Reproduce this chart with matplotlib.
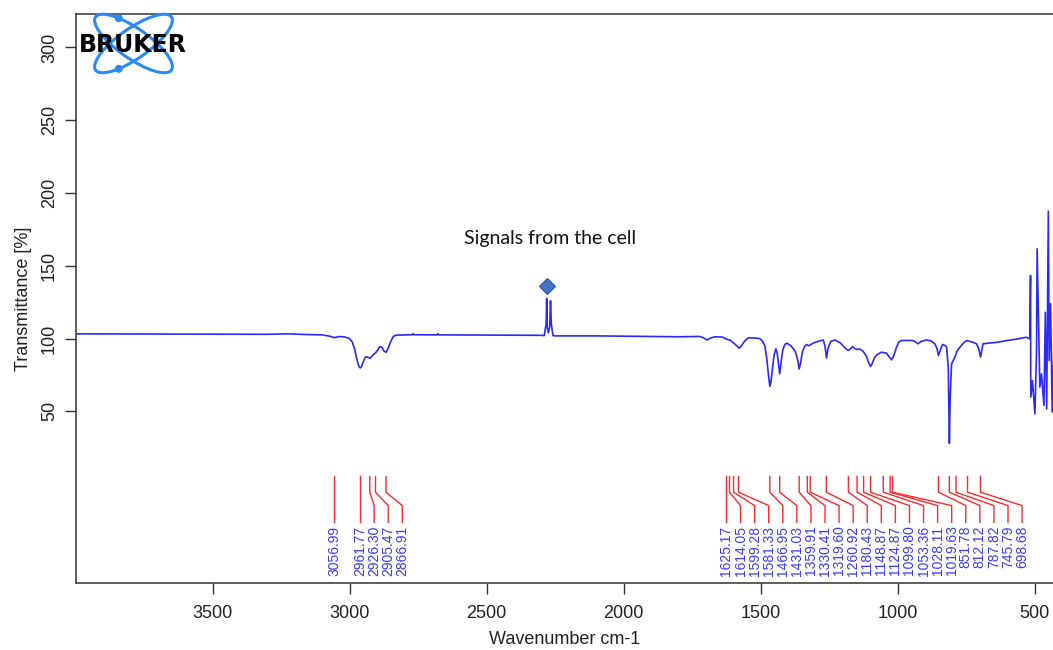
import matplotlib
matplotlib.use("Agg")
import numpy as np
import matplotlib.pyplot as plt
from matplotlib.patches import Ellipse, Circle

plt.rcParams["font.family"] = ["Liberation Sans", "DejaVu Sans"]

# IR transmittance spectrum (wavenumber in cm-1, transmittance in %)
wavenumber = [
    4000, 3800, 3600, 3400, 3300, 3230, 3150, 3100, 3070, 3056, 3040, 3020,
    3000, 2990, 2982, 2975, 2968, 2964, 2961, 2957, 2952, 2946, 2940, 2932,
    2926, 2918, 2910, 2905, 2898, 2890, 2882, 2875, 2867, 2860, 2850, 2840,
    2830, 2770, 2768, 2765, 2680, 2677, 2674, 2400, 2300, 2290, 2283, 2281,
    2279, 2275, 2270, 2267, 2264, 2258, 2250, 2100, 2000, 1900, 1800, 1723,
    1710, 1696, 1682, 1668, 1640, 1625, 1613, 1600, 1590, 1579, 1570, 1560,
    1546, 1520, 1504, 1495, 1485, 1478, 1472, 1467, 1463, 1458, 1452, 1445,
    1440, 1435, 1431, 1427, 1420, 1412, 1404, 1390, 1378, 1372, 1365, 1360,
    1355, 1348, 1340, 1333, 1325, 1320, 1315, 1300, 1272, 1266, 1260, 1255,
    1245, 1230, 1210, 1190, 1181, 1172, 1165, 1157, 1149, 1140, 1127, 1115,
    1106, 1100, 1093, 1085, 1075, 1060, 1041, 1030, 1023, 1015, 1005, 995,
    986, 960, 944, 935, 926, 915, 895, 880, 865, 857, 852, 845,
    837, 826, 822, 816, 812, 809, 804, 792, 785, 774, 760, 749,
    730, 713, 705, 698, 693, 689, 660, 634, 603, 570, 530, 524,
    519, 516, 515, 509, 500, 494, 492, 482, 476, 467, 462, 457,
    451, 448, 443, 437, 430,
]
transmittance = [
    103.2, 103.1, 103.0, 102.9, 102.9, 103.2, 102.7, 102.5, 101.5, 100.6, 101.3, 101.2,
    100.0, 97.5, 93.0, 87.0, 82.0, 80.3, 79.8, 80.5, 83.0, 86.0, 87.5, 87.0,
    86.4, 88.0, 89.5, 90.2, 92.0, 94.5, 94.0, 91.5, 90.5, 93.0, 98.0, 101.5,
    102.3, 102.6, 103.3, 102.6, 102.5, 103.3, 102.5, 102.3, 102.2, 102.0, 110.0, 127.5,
    108.0, 104.0, 108.0, 126.0, 110.0, 102.0, 101.8, 101.8, 101.6, 101.4, 101.2, 101.4,
    100.6, 99.0, 100.4, 101.2, 101.0, 99.5, 99.0, 97.0, 95.5, 93.3, 95.0, 98.0,
    100.5, 100.3, 100.0, 98.5, 95.0, 86.0, 75.0, 67.2, 70.0, 78.0, 88.0, 92.9,
    90.0, 82.0, 75.7, 82.0, 92.0, 96.0, 96.8, 95.0, 92.2, 90.0, 85.0, 79.1,
    83.0, 91.0, 94.5, 95.9, 95.0, 95.5, 96.2, 97.5, 99.0, 95.0, 86.6, 93.0,
    98.0, 99.0, 97.0, 93.0, 91.8, 93.0, 94.5, 93.0, 92.5, 92.8, 91.3, 88.0,
    83.0, 80.8, 83.0, 87.0, 89.0, 90.6, 89.9, 87.0, 85.3, 88.0, 94.0, 98.0,
    98.6, 98.7, 98.6, 97.5, 96.4, 98.0, 99.0, 98.5, 96.4, 93.0, 88.3, 92.0,
    95.9, 95.0, 94.0, 80.0, 28.0, 60.0, 82.6, 87.2, 91.0, 94.0, 97.0, 98.6,
    97.7, 96.4, 93.0, 87.2, 93.0, 96.4, 97.0, 97.5, 98.6, 99.5, 100.9, 100.0,
    100.0, 143.3, 59.7, 71.1, 48.2, 91.8, 161.6, 66.6, 75.7, 54.0, 118.0, 51.6,
    187.5, 84.9, 123.9, 49.5, 100.0,
]

# Picked peak positions (cm-1)
peak_positions = [
    3056.99, 2961.77, 2926.30, 2905.47, 2866.91,
    1625.17, 1614.05, 1599.28, 1581.33, 1466.95, 1431.03, 1359.91, 1330.41,
    1319.60, 1260.92, 1180.43, 1148.87, 1124.87, 1099.80, 1053.36, 1028.11,
    1019.63, 851.78, 812.12, 787.82, 745.79, 698.68,
]

x_ticks = [3500, 3000, 2500, 2000, 1500, 1000, 500]
y_ticks = [50, 100, 150, 200, 250, 300]

cell_signal_wn = 2279
cell_signal_marker_T = 136.4
cell_note = "Signals from the cell"

W, H = 1053, 650
fig = plt.figure(figsize=(W / 100, H / 100), dpi=100)
ax = fig.add_axes([76 / W, 67 / H, 1 - 76 / W, 569 / H])

ax.plot(wavenumber, transmittance, color="#2a2aff", lw=1.2, zorder=3)

ax.set_xlim(3998, 434)
ax.set_ylim(-68, 323)
ax.set_xticks(x_ticks)
ax.set_yticks(y_ticks)
ax.set_xticklabels([str(v) for v in x_ticks])
ax.set_yticklabels([str(v) for v in y_ticks], rotation=90, va="center")
ax.tick_params(axis="both", direction="out", length=8, width=1,
               color="#333333", labelsize=13, labelcolor="#222222")
ax.tick_params(axis="x", pad=8)
ax.tick_params(axis="y", pad=5)
for side in ("left", "bottom", "top"):
    ax.spines[side].set_color("#333333")
    ax.spines[side].set_linewidth(1.1)
ax.spines["right"].set_visible(False)

ax.set_xlabel("Wavenumber cm-1", fontsize=13, color="#222222", labelpad=6)
ax.set_ylabel("Transmittance [%]", fontsize=13, color="#222222", labelpad=6.5)

# Peak labels: stems fan out so the rotated labels never overlap
label_gap = 51.35          # minimum spacing between labels, cm-1
y_top, y_kink, y_bend, y_bottom, y_text = 5.2, -5.6, -14.8, -26.3, -28.5
label_pos = []
prev = None
for p in sorted(peak_positions, reverse=True):
    pos = p if prev is None else min(p, prev - label_gap)
    label_pos.append((p, pos))
    prev = pos
for p, pos in label_pos:
    if abs(pos - p) < 1e-6:
        xs, ys = [p, p], [y_top, y_bottom]
    else:
        xs, ys = [p, p, pos, pos], [y_top, y_kink, y_bend, y_bottom]
    ax.plot(xs, ys, color="#ff2a2a", lw=1.0, zorder=2, clip_on=False)
    ax.text(pos, y_text, f"{p:.2f}", rotation=90, ha="center", va="top",
            fontsize=10, color="#3a3aff", zorder=4)

# Cell signal annotation
ax.plot([cell_signal_wn], [cell_signal_marker_T], marker="D", ms=8.5,
        color="#4472c4", mec="#2f528f", mew=0.8, zorder=5)
ax.text(2270, 168.7, cell_note, ha="center", va="center", fontsize=14,
        family=["Lato", "DejaVu Sans"], color="#111111")

# Bruker logo in the upper-left corner
lx0, ly0, lw_, lh_ = 76, 10, 114, 66
logo = fig.add_axes([lx0 / W, (H - ly0 - lh_) / H, lw_ / W, lh_ / H])
logo.set_xlim(0, lw_)
logo.set_ylim(0, lh_)
logo.axis("off")
cx, cy = 57.5, 32.5
ea, eb, tilt = 46.3, 15.0, 35.0
blue = "#2b8af0"
for sgn in (-1, 1):
    ang = sgn * tilt
    logo.add_patch(Ellipse((cx, cy), 2 * ea, 2 * eb, angle=ang, fill=False,
                           ec=blue, lw=2.2))
    t = np.deg2rad(125.0)
    phi = np.deg2rad(-tilt)
    px = ea * np.cos(t) * np.cos(phi) - eb * np.sin(t) * np.sin(phi)
    py = ea * np.cos(t) * np.sin(phi) + eb * np.sin(t) * np.cos(phi)
    logo.add_patch(Circle((cx + px, cy - sgn * py), 3.3, color=blue))
logo.text(cx - 1, cy - 1, "BRUKER", ha="center", va="center", fontsize=17,
          weight="heavy", family=["DejaVu Sans"], color="black")

fig.savefig("out.png", dpi=100)
